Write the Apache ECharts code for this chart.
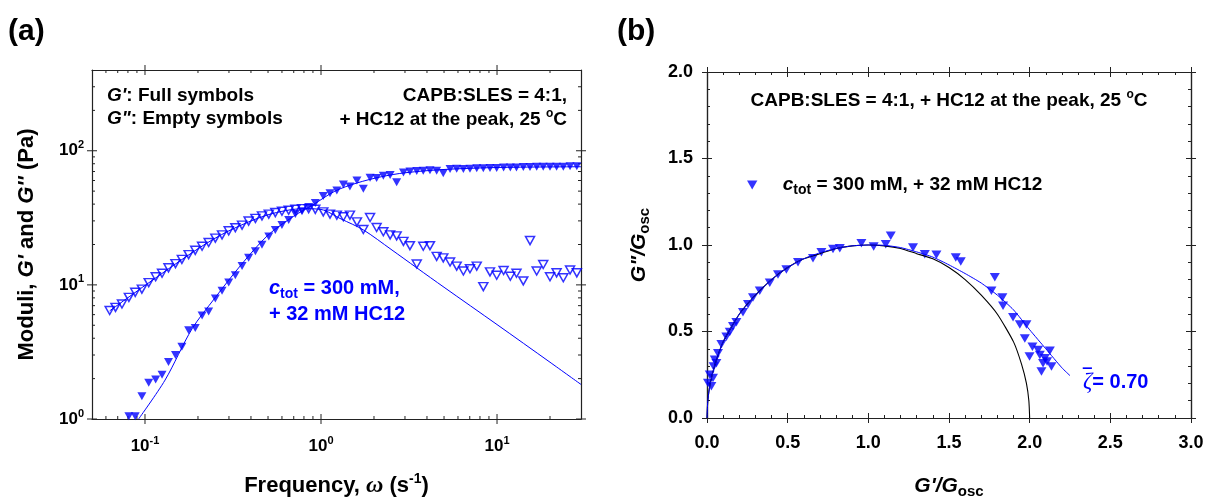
<!DOCTYPE html>
<html lang="en">
<head>
<meta charset="UTF-8">
<title>Moduli and Cole-Cole plot</title>
<script src="https://cdn.jsdelivr.net/npm/echarts@6.0.0/dist/echarts.min.js"></script>
<style>
  body { margin: 0; background: #fff; }
  #main { width: 1208px; height: 504px; }
</style>
</head>
<body>
<div id="main"></div>
<script>
// ---- panel (a): frequency sweep ----
const freq = [0.063, 0.068, 0.074, 0.081, 0.088, 0.096, 0.105, 0.115, 0.125, 0.136,
  0.149, 0.162, 0.177, 0.193, 0.211, 0.230, 0.251, 0.274, 0.299, 0.326,
  0.356, 0.388, 0.424, 0.462, 0.505, 0.550, 0.600, 0.655, 0.715, 0.780,
  0.851, 0.928, 1.03, 1.125, 1.23, 1.34, 1.46, 1.60, 1.74, 1.90,
  2.07, 2.26, 2.47, 2.69, 2.94, 3.20, 3.50, 3.81, 4.16, 4.54,
  4.95, 5.41, 5.90, 6.44, 7.02, 7.67, 8.36, 9.12, 9.96, 10.9,
  11.9, 12.9, 14.1, 15.4, 16.8, 18.3, 20.0, 21.8, 23.8, 26.0, 28.4];
const gStorage = [null, null, null, 1.05, 1.05, 1.48, 1.86, 1.97, 2.14, 2.66,
  3.0, 3.46, 4.59, 4.77, 5.92, 6.33, 7.93, 9.03, 10.4, 11.8,
  13.8, 15.9, 17.8, 19.9, 22.9, 25.7, 27.9, 30.4, 33.7, 35.4,
  38.1, 40.7, 46, 48.3, 50.6, 56, 54.1, 60, 52, 63,
  62.6, 65.2, 66, 58.2, 68.9, 70, 70.5, 71, 71.5, 71,
  68, 73, 73.5, 73, 73.5, 74, 74, 74.5, 74.5, 75,
  75, 75, 75.5, 75.5, 76, 76, 76, 76, 76, 76.5, 76.5];
const gLoss = [6.44, 6.8, 7.2, 8.07, 8.8, 9.3, 10.4, 11.5, 12.2, 13.4,
  14.4, 15.5, 16.8, 18.1, 19.4, 20.7, 22.3, 23.6, 25.3, 26.7,
  27.9, 29.9, 31.3, 32.7, 33.7, 34.6, 35.4, 36.0, 36.6, 37.0,
  37.0, 36.6, 35.0, 33.7, 33.1, 32.2, 33.1, 29.5, 25.9, 31.8,
  26.8, 24.9, 23.6, 23.2, 21.1, 19.6, 14.3, 19.4, 19.6, 16.3,
  15.9, 14.8, 13.8, 12.7, 13.2, 13.8, 9.7, 12.5, 11.8, 12.8,
  11.6, 12.2, 10.7, 21.4, 12.7, 14.2, 11.5, 12.3, 11.3, 12.9, 12.3];
// fitted Maxwell curves
const fitStorageW = [0.092, 0.13, 0.185, 0.25, 0.35, 0.5, 0.7, 0.9, 1.2, 1.6, 2.2, 3, 5, 10, 30];
const fitStorageG = [1.0, 1.95, 4.7, 8.0, 14, 23.5, 32.5, 39.5, 50, 57.5, 64, 68.5, 72.5, 75, 76];
const fitLossW = [0.063, 0.1, 0.2, 0.3, 0.5, 0.8, 1.0, 1.3, 1.74, 2.5, 3.5, 5, 10, 20, 30];
const fitLossG = [6.4, 9.9, 18.6, 25.3, 33.3, 37, 36.5, 31, 25.7, 18.4, 13.4, 9.6, 5.06, 2.65, 1.81];
// log axis tick values
const xMajorA = [0.1, 1, 10];
const xMinorA = [0.06, 0.07, 0.08, 0.09, 0.2, 0.3, 0.4, 0.5, 0.6, 0.7, 0.8, 0.9,
  2, 3, 4, 5, 6, 7, 8, 9, 20];
const yMajorA = [1, 10, 100];
const yMinorA = [2, 3, 4, 5, 6, 7, 8, 9, 20, 30, 40, 50, 60, 70, 80, 90, 200, 300];

// ---- panel (b): normalised Cole-Cole plot ----
const colX = [0.006, 0.017, 0.027, 0.037, 0.041, 0.048, 0.058, 0.068, 0.089, 0.12,
  0.141, 0.161, 0.182, 0.223, 0.254, 0.285, 0.327, 0.389, 0.44, 0.492,
  0.564, 0.657, 0.709, 0.781, 0.823, 0.957, 1.033, 1.108, 1.139, 1.277,
  1.35, 1.422, 1.542, 1.573, 1.784, 1.763, 1.831, 1.835, 1.897, 1.939,
  1.98, 1.97, 2.017, 2.052, 1.999, 2.063, 2.094, 2.125, 2.083, 2.135, 2.073, 2.108];
const colY = [0.203, 0.25, 0.184, 0.231, 0.298, 0.336, 0.317, 0.374, 0.427, 0.469,
  0.497, 0.53, 0.554, 0.611, 0.658, 0.696, 0.735, 0.782, 0.829, 0.858,
  0.901, 0.924, 0.958, 0.977, 0.981, 1.01, 0.991, 1.004, 1.054, 0.985,
  0.947, 0.943, 0.928, 0.905, 0.814, 0.735, 0.696, 0.649, 0.583, 0.541,
  0.541, 0.459, 0.412, 0.393, 0.355, 0.364, 0.345, 0.389, 0.317, 0.298, 0.269, 0.326];
const circleX = [0, 0.005, 0.02, 0.05, 0.1, 0.2, 0.3, 0.4, 0.5, 0.6, 0.7, 0.8, 0.9, 1.0,
  1.1, 1.2, 1.3, 1.4, 1.5, 1.6, 1.7, 1.8, 1.9, 1.95, 1.98, 1.995, 2.0];
const circleY = [0, 0.1, 0.2, 0.31, 0.44, 0.6, 0.71, 0.8, 0.87, 0.92, 0.95, 0.98, 0.995, 1.0,
  0.995, 0.98, 0.95, 0.92, 0.87, 0.8, 0.71, 0.6, 0.44, 0.31, 0.2, 0.1, 0];
const zetaX = [0, 0.005, 0.02, 0.05, 0.1, 0.2, 0.3, 0.4, 0.5, 0.6, 0.7, 0.8, 0.9, 1.0,
  1.1, 1.2, 1.3, 1.4, 1.5, 1.6, 1.7, 1.8, 1.9, 2.0, 2.1, 2.2, 2.25];
const zetaY = [0, 0.1, 0.2, 0.31, 0.44, 0.6, 0.71, 0.8, 0.87, 0.92, 0.955, 0.98, 0.995, 1.0,
  0.998, 0.985, 0.96, 0.93, 0.885, 0.835, 0.78, 0.71, 0.625, 0.51, 0.4, 0.29, 0.245];

const BLUE = '#0000ff';
const AX = '#222';
const FONT = 'Liberation Sans';
const TRI = 'path://M0,0L10,0L5,8.66Z';

const pairs = (xs, ys) => xs.map((x, i) => [x, ys[i]]);

function rs(size, extra) {
  return Object.assign({ fontSize: size, fontWeight: 'bold', fontFamily: FONT }, extra || {});
}

function logLabel(v) {
  const e = Math.log10(v);
  const r = Math.round(e);
  if (Math.abs(e - r) > 1e-6) return '';
  return '10{sup|' + r + '}';
}

// draws log-axis ticks on both sides of the frame (major cross, minor inside)
function tickItem(isX) {
  return function (params, api) {
    const v = api.value(isX ? 0 : 1);
    const major = api.value(2) === 1;
    const inL = major ? 5 : 3, outL = major ? 5 : 0;
    const st = { stroke: AX, lineWidth: 1 };
    if (isX) {
      const b = api.coord([v, 1]), t = api.coord([v, 400]);
      return { type: 'group', children: [
        { type: 'line', shape: { x1: b[0], y1: b[1] + outL, x2: b[0], y2: b[1] - inL }, style: st },
        { type: 'line', shape: { x1: t[0], y1: t[1] - outL, x2: t[0], y2: t[1] + inL }, style: st }
      ] };
    }
    const l = api.coord([0.05, v]), r = api.coord([30, v]);
    return { type: 'group', children: [
      { type: 'line', shape: { x1: l[0] - outL, y1: l[1], x2: l[0] + inL, y2: l[1] }, style: st },
      { type: 'line', shape: { x1: r[0] + outL, y1: r[1], x2: r[0] - inL, y2: r[1] }, style: st }
    ] };
  };
}

const lineStyleAx = { color: AX, width: 1.2 };

function logAxis(pos, min, max, label, name, nameGap) {
  const ax = {
    type: 'log', logBase: 10, gridIndex: 0, position: pos, min: min, max: max,
    axisLine: { show: true, onZero: false, lineStyle: lineStyleAx },
    axisTick: { show: false }, minorTick: { show: false }, splitLine: { show: false },
    axisLabel: { show: false }
  };
  if (label) {
    ax.axisLabel = {
      show: true, formatter: logLabel, color: '#000', fontSize: 17, fontWeight: 'bold',
      fontFamily: FONT, lineHeight: 22, margin: label,
      rich: { sup: rs(11, { color: '#000', verticalAlign: 'top', lineHeight: 12 }) }
    };
    ax.name = name;
    ax.nameLocation = 'middle';
    ax.nameGap = nameGap;
    ax.nameTextStyle = {
      color: '#000', fontSize: 22, fontWeight: 'bold', fontFamily: FONT, lineHeight: 27,
      rich: {
        i: rs(22, { color: '#000', fontStyle: 'italic', lineHeight: 27 }),
        w: { color: '#000', fontSize: 24, fontStyle: 'italic', fontFamily: 'Liberation Serif', lineHeight: 27 },
        sup: rs(14, { color: '#000', verticalAlign: 'top', lineHeight: 14 })
      }
    };
  }
  return ax;
}

function linAxis(pos, max, inside, label, name, nameGap) {
  const ax = {
    type: 'value', gridIndex: 1, position: pos, min: 0, max: max, interval: 0.5,
    axisLine: { show: true, onZero: false, lineStyle: lineStyleAx },
    axisTick: { show: true, inside: inside, length: 5, lineStyle: { color: AX, width: 1 } },
    minorTick: { show: inside, splitNumber: 5, length: 3, lineStyle: { color: AX, width: 1 } },
    splitLine: { show: false }, minorSplitLine: { show: false },
    axisLabel: { show: false }
  };
  if (label) {
    ax.axisLabel = {
      show: true, formatter: v => v.toFixed(1), color: '#000', fontSize: 18,
      fontWeight: 'bold', fontFamily: FONT, lineHeight: 22, margin: label
    };
    ax.name = name;
    ax.nameLocation = 'middle';
    ax.nameGap = nameGap;
    ax.nameTextStyle = {
      color: '#000', fontSize: 21, fontWeight: 'bold', fontFamily: FONT, lineHeight: 26,
      rich: {
        i: rs(21, { color: '#000', fontStyle: 'italic', lineHeight: 26 }),
        sub: rs(15, { color: '#000', verticalAlign: 'bottom', lineHeight: 16 })
      }
    };
  }
  return ax;
}

function txt(x, y, text, size, color, align, extraRich) {
  return {
    type: 'text', x: x, y: y, silent: true,
    style: {
      text: text, fill: color, fontSize: size, fontWeight: 'bold', fontFamily: FONT,
      textAlign: align, textVerticalAlign: 'middle', lineHeight: size + 6,
      rich: Object.assign({
        i: rs(size, { fill: color, color: color, fontStyle: 'italic', lineHeight: size + 6 }),
        sup: rs(Math.round(size * 0.65), { fill: color, color: color, verticalAlign: 'top', lineHeight: 12 }),
        sub: rs(Math.round(size * 0.72), { fill: color, color: color, verticalAlign: 'bottom', lineHeight: 14 })
      }, extraRich || {})
    }
  };
}

const chart = echarts.init(document.getElementById('main'), null, { renderer: 'canvas' });

const option = {
  animation: false,
  backgroundColor: '#fff',
  grid: [
    { left: 92, top: 70, width: 489, height: 355 },
    { left: 707, top: 72, width: 484, height: 350 }
  ],
  xAxis: [
    logAxis('bottom', 0.05, 30, 16, 'Frequency, {w|ω} (s{sup|-1})', 53),
    logAxis('top', 0.05, 30, 0),
    linAxis('bottom', 3, false, 14, "{i|G'/G}{sub|osc}", 55),
    linAxis('bottom', 3, true, 0),
    linAxis('top', 3, false, 0),
    linAxis('top', 3, true, 0)
  ],
  yAxis: [
    logAxis('left', 1, 400, 8, "Moduli, {i|G'} and {i|G''} (Pa)", 52),
    logAxis('right', 1, 400, 0),
    linAxis('left', 2, false, 14, '{i|G"/G}{sub|osc}', 55),
    linAxis('left', 2, true, 0),
    linAxis('right', 2, false, 0),
    linAxis('right', 2, true, 0)
  ],
  legend: {
    show: true, selectedMode: false, left: 742, top: 168, itemWidth: 11, itemHeight: 9,
    data: [{ name: 'ctot', icon: TRI }],
    formatter: () => '{gap| }{i|c}{sub|tot}{n| = 300 mM, + 32 mM HC12}',
    textStyle: {
      color: '#000', fontSize: 19, fontWeight: 'bold', fontFamily: FONT, lineHeight: 24,
      rich: {
        gap: { width: 20 },
        n: rs(19, { color: '#000', lineHeight: 24 }),
        i: rs(19, { color: '#000', fontStyle: 'italic', lineHeight: 24 }),
        sub: rs(14, { color: '#000', verticalAlign: 'bottom', lineHeight: 14 })
      }
    }
  },
  series: [
    {
      type: 'custom', xAxisIndex: 0, yAxisIndex: 0, silent: true, clip: false,
      dimensions: ['x', 'y', 'major'], encode: { x: 0, y: 1 },
      data: xMajorA.map(v => [v, 1, 1]).concat(xMinorA.map(v => [v, 1, 0])),
      renderItem: tickItem(true)
    },
    {
      type: 'custom', xAxisIndex: 0, yAxisIndex: 0, silent: true, clip: false,
      dimensions: ['x', 'y', 'major'], encode: { x: 0, y: 1 },
      data: yMajorA.map(v => [1, v, 1]).concat(yMinorA.map(v => [1, v, 0])),
      renderItem: tickItem(false)
    },
    {
      name: 'fitStorage', type: 'line', xAxisIndex: 0, yAxisIndex: 0,
      data: pairs(fitStorageW, fitStorageG), smooth: 0.3, showSymbol: false, silent: true,
      lineStyle: { color: BLUE, width: 1 }
    },
    {
      name: 'fitLoss', type: 'line', xAxisIndex: 0, yAxisIndex: 0,
      data: pairs(fitLossW, fitLossG), smooth: 0.3, showSymbol: false, silent: true,
      lineStyle: { color: BLUE, width: 1 }
    },
    {
      name: "G'", type: 'scatter', xAxisIndex: 0, yAxisIndex: 0,
      data: pairs(freq, gStorage).filter(p => p[1] !== null),
      symbol: TRI, symbolSize: [9, 8], itemStyle: { color: BLUE }
    },
    {
      name: 'G"', type: 'scatter', xAxisIndex: 0, yAxisIndex: 0,
      data: pairs(freq, gLoss),
      symbol: TRI, symbolSize: [9, 8],
      itemStyle: { color: 'rgba(255,255,255,0)', borderColor: BLUE, borderWidth: 1.5 }
    },
    {
      name: 'circle', type: 'line', xAxisIndex: 2, yAxisIndex: 2,
      data: pairs(circleX, circleY), smooth: 0.2, showSymbol: false, silent: true,
      lineStyle: { color: '#000', width: 1.1 }
    },
    {
      name: 'zeta', type: 'line', xAxisIndex: 2, yAxisIndex: 2,
      data: pairs(zetaX, zetaY), smooth: 0.2, showSymbol: false, silent: true,
      lineStyle: { color: BLUE, width: 1 }
    },
    {
      name: 'ctot', type: 'scatter', xAxisIndex: 2, yAxisIndex: 2,
      data: pairs(colX, colY), symbol: TRI, symbolSize: [10, 8.5],
      itemStyle: { color: BLUE }
    }
  ],
  graphic: [
    txt(8, 32, '(a)', 30, '#000', 'left'),
    txt(617, 32, '(b)', 30, '#000', 'left'),
    txt(107, 96, "{i|G'}: Full symbols", 19, '#000', 'left'),
    txt(107, 119, '{i|G"}: Empty symbols', 19, '#000', 'left'),
    txt(567, 96, 'CAPB:SLES = 4:1,', 19, '#000', 'right'),
    txt(567, 120, '+ HC12 at the peak, 25 {sup|o}C', 19, '#000', 'right'),
    txt(269, 288, '{i|c}{sub|tot} = 300 mM,', 20, BLUE, 'left'),
    txt(269, 314, '+ 32 mM HC12', 20, BLUE, 'left'),
    txt(949, 101, 'CAPB:SLES = 4:1, + HC12 at the peak, 25 {sup|o}C', 19, '#000', 'center'),
    txt(1083, 382, '{z|ζ}= 0.70', 20, BLUE, 'left', {
      z: { fontSize: 23, fontStyle: 'italic', fontFamily: 'Liberation Serif', fill: BLUE, color: BLUE, lineHeight: 26 }
    }),
    // overbar of the mean zeta
    txt(1084, 378, '\u203E', 20, BLUE, 'left')
  ]
};

chart.setOption(option);
</script>
</body>
</html>
